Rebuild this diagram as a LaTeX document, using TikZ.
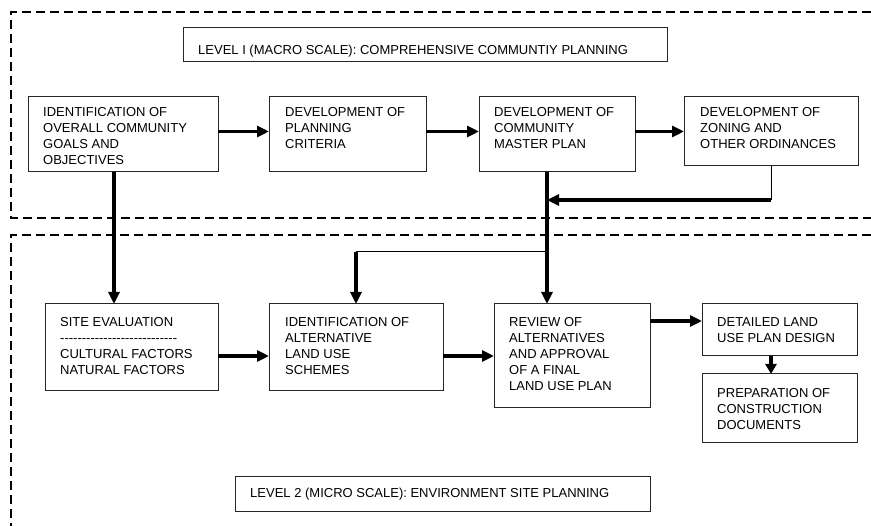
\documentclass[tikz,border=0pt]{standalone}
\usepackage{fontspec}
\setmainfont{Liberation Sans}
\usetikzlibrary{arrows.meta,calc}
\def\hx{\mbox{-}}
\def\hv{\hx\hx\hx\hx\hx\hx\hx\hx\hx}
\begin{document}
\begin{tikzpicture}[x=1pt,y=-1pt,
  box/.style={draw=black!85,line width=1pt,inner sep=0pt,outer sep=0pt,anchor=north west},
  txt/.style={anchor=north west,inner sep=0pt,align=left,font=\fontsize{13}{16}\selectfont,text=black},
  ttl/.style={anchor=base west,inner sep=0pt,font=\fontsize{13}{16}\selectfont,text=black},
  frame/.style={line width=2.8pt,dash pattern=on 9pt off 5pt},
  thk/.style={line width=3.1pt,-{Triangle[length=12pt,width=11pt]}},
  thks/.style={line width=3.1pt,-{Triangle[length=10pt,width=11pt]}},
  thn/.style={line width=1pt}]
\useasboundingbox (0,0) rectangle (871,526);
% frames
\draw[frame] (871,12) -- (11,12) -- (11,218) -- (871,218);
\draw[frame] (871,235) -- (11,235) -- (11,530);
% boxes
\node[box,minimum width=484,minimum height=34] (t1) at (183,28) {};
\node[box,minimum width=190,minimum height=75] (a) at (28,97) {};
\node[box,minimum width=157,minimum height=75] (b) at (269,97) {};
\node[box,minimum width=156,minimum height=75] (c) at (479,97) {};
\node[box,minimum width=174,minimum height=69] (d) at (684,97) {};
\node[box,minimum width=173,minimum height=87] (site) at (45,304) {};
\node[box,minimum width=174,minimum height=87] (alt) at (269,304) {};
\node[box,minimum width=156,minimum height=104] (rev) at (494,304) {};
\node[box,minimum width=155,minimum height=52] (det) at (702,304) {};
\node[box,minimum width=155,minimum height=69] (prep) at (702,374) {};
\node[box,minimum width=415,minimum height=35] (t2) at (235,477) {};
% texts
\node[ttl] (t1x) at ($(t1.north west)+(15,26.5)$) {LEVEL I (MACRO SCALE): COMPREHENSIVE COMMUNTIY PLANNING};
\node[ttl] (t2x) at ($(t2.north west)+(15,21)$) {LEVEL 2 (MICRO SCALE): ENVIRONMENT SITE PLANNING};
\node[txt] (ax) at ($(a.north west)+(15,10)$) {IDENTIFICATION OF\\OVERALL COMMUNITY\\GOALS AND\\OBJECTIVES};
\node[txt] (bx) at ($(b.north west)+(16,10)$) {DEVELOPMENT OF\\PLANNING\\CRITERIA};
\node[txt] (cx) at ($(c.north west)+(15,10)$) {DEVELOPMENT OF\\COMMUNITY\\MASTER PLAN};
\node[txt] (dx) at ($(d.north west)+(16,10)$) {DEVELOPMENT OF\\ZONING AND\\OTHER ORDINANCES};
\node[txt] (sitex) at ($(site.north west)+(15,13)$) {SITE EVALUATION\\\hv\hv\hv\\CULTURAL FACTORS\\NATURAL FACTORS};
\node[txt] (altx) at ($(alt.north west)+(16,13)$) {IDENTIFICATION OF\\ALTERNATIVE\\LAND USE\\SCHEMES};
\node[txt] (revx) at ($(rev.north west)+(15,13)$) {REVIEW OF\\ALTERNATIVES\\AND APPROVAL\\OF A FINAL\\LAND USE PLAN};
\node[txt] (detx) at ($(det.north west)+(15,13)$) {DETAILED LAND\\USE PLAN DESIGN};
\node[txt] (prepx) at ($(prep.north west)+(15,14)$) {PREPARATION OF\\CONSTRUCTION\\DOCUMENTS};
% connectors
\draw[thk] (a.east |- d.west) -- (b.west |- d.west);
\draw[thk] (b.east |- d.west) -- (c.west |- d.west);
\draw[thk] (c.east |- d.west) -- (d.west);
\coordinate (p1) at ($(a.south)+(-9,0)$);
\draw[thk] (p1) -- (p1 |- site.north);
\coordinate (p2) at ($(c.south)+(-10,0)$);
\draw[thk] (p2) -- (p2 |- rev.north);
\coordinate (j1) at ($(p2)+(0,28)$);
\draw[thn] (d.south) -- (d.south |- j1);
\draw[thk] (d.south |- j1) -- (j1);
\coordinate (j2) at ($(p2)+(0,80)$);
\draw[thn] (j2) -- (j2 -| alt.north);
\draw[thk] (j2 -| alt.north) -- (alt.north);
\draw[thk] (site.east |- rev.west) -- (alt.west |- rev.west);
\draw[thk] (alt.east |- rev.west) -- (rev.west);
\coordinate (q) at ($(det.west)+(0,-9)$);
\draw[thk] (rev.east |- q) -- (q);
\coordinate (r) at ($(det.south)+(-8.5,0)$);
\draw[thks] (r) -- (r |- prep.north);
\end{tikzpicture}
\end{document}
